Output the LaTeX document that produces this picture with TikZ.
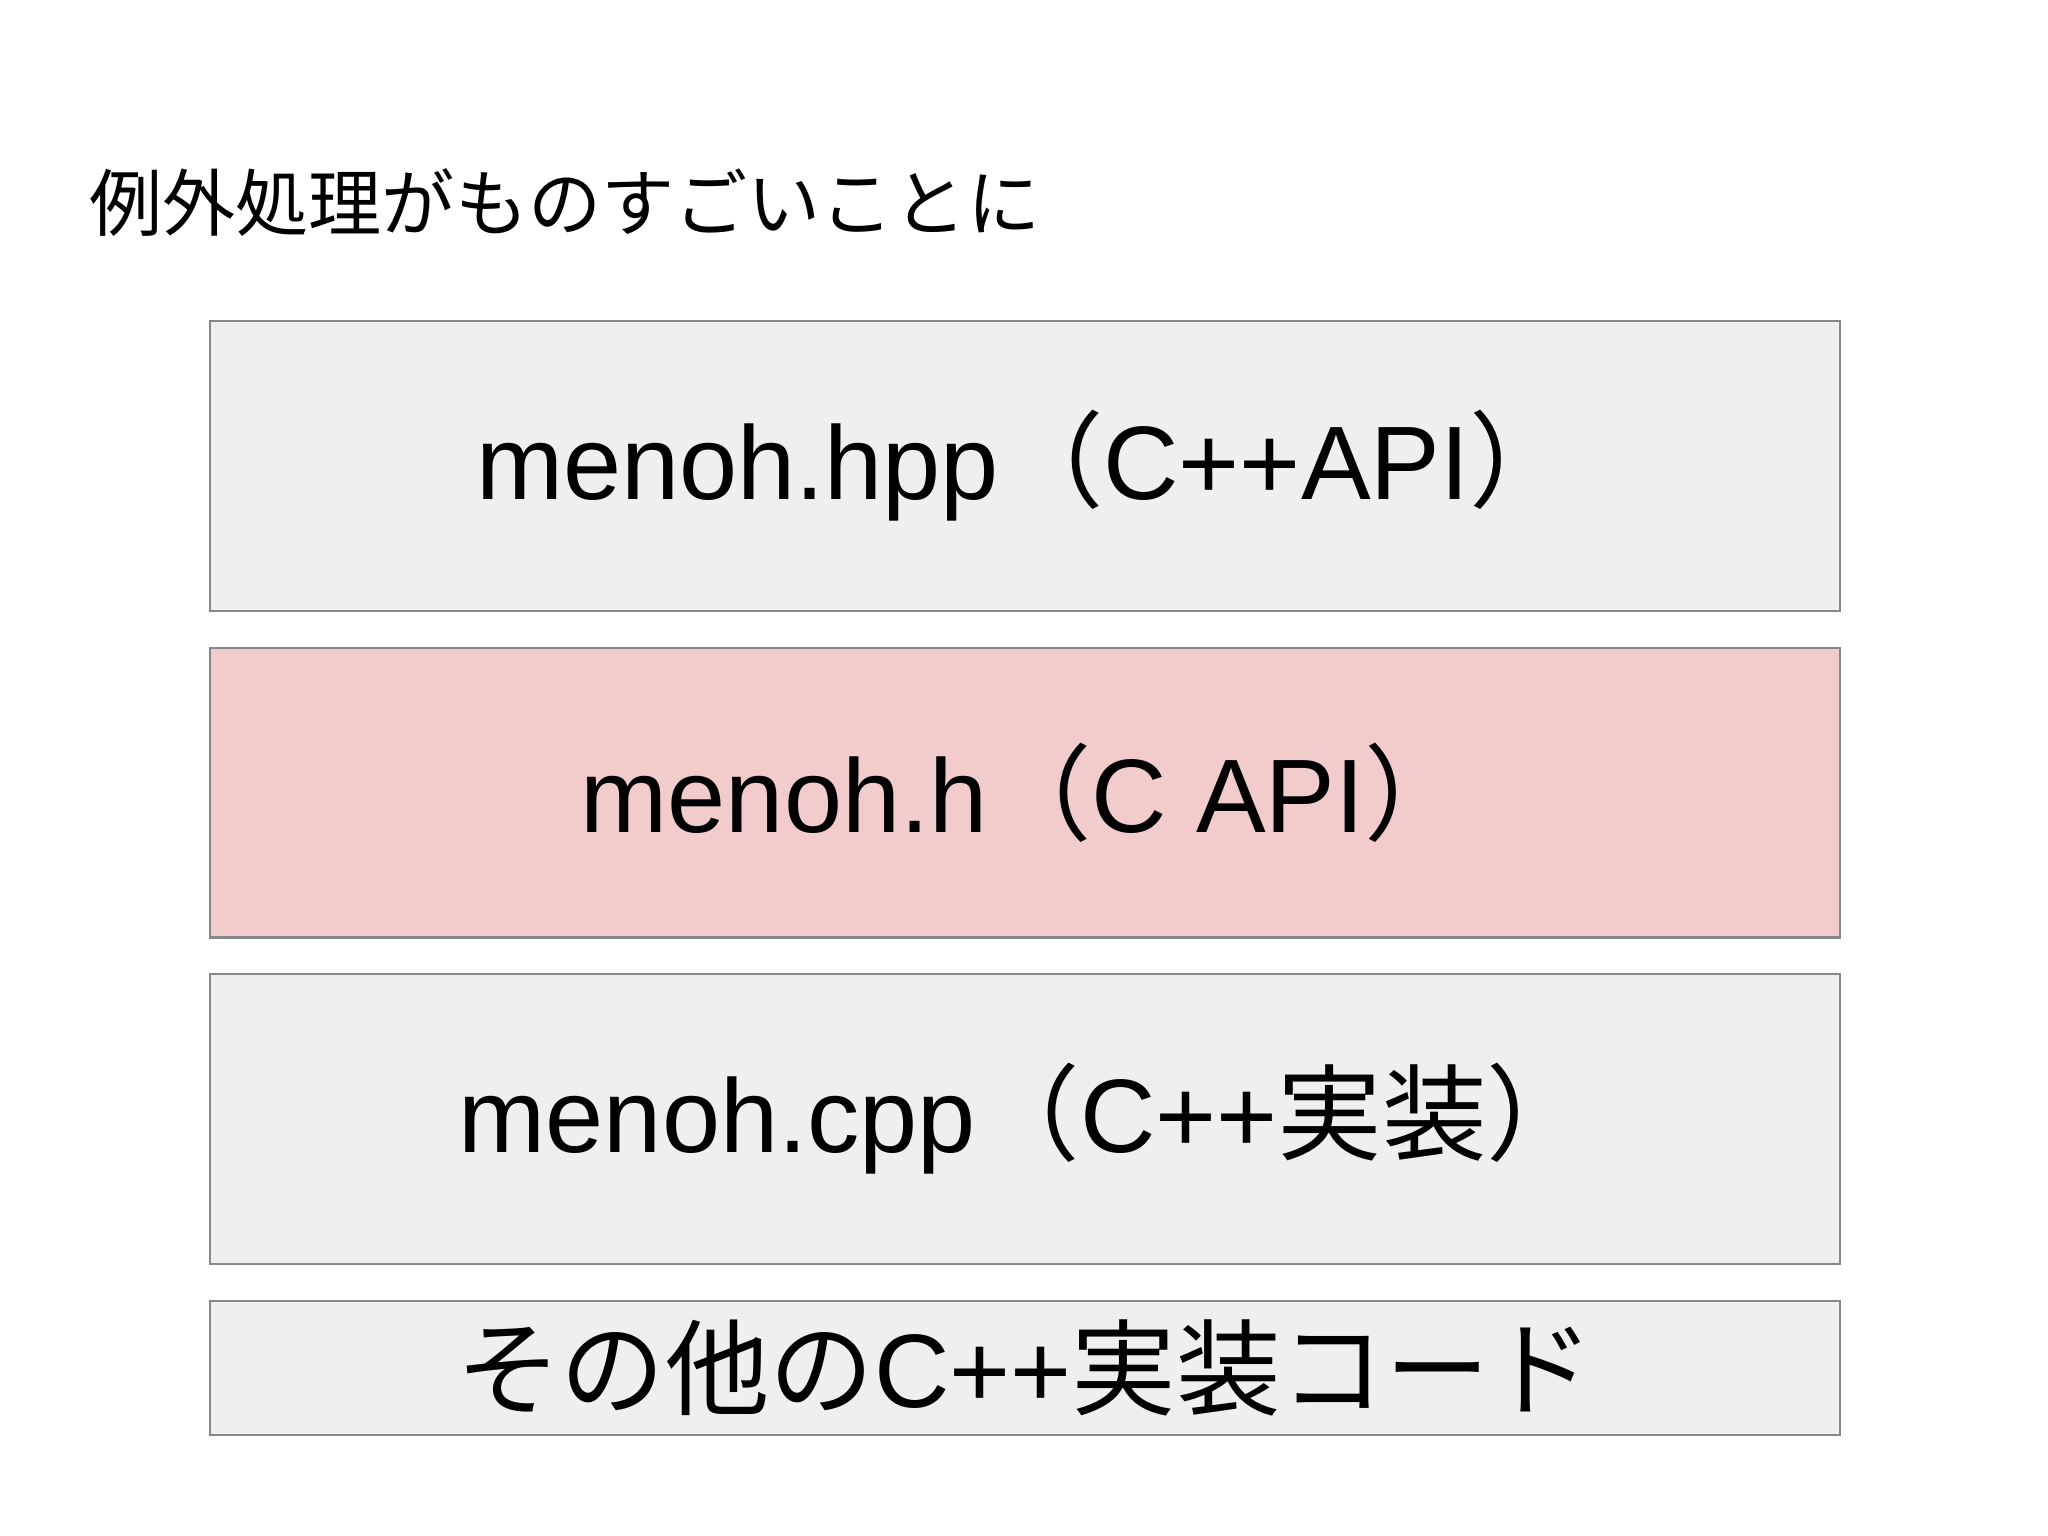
\documentclass[tikz,border=0pt]{standalone}
\usepackage{fontspec}
\setmainfont{Liberation Sans}
\newfontfamily\jp{Noto Sans CJK JP}
\definecolor{boxgray}{HTML}{EFEFEF}
\definecolor{boxpink}{HTML}{F2CCCC}
\definecolor{edge}{HTML}{888888}
\begin{document}
\begin{tikzpicture}[x=0.5pt,y=-0.5pt,
  layer/.style={draw=edge,line width=0.8pt,minimum width=624pt,inner sep=0pt,anchor=north west,font=\fontsize{40}{44}\selectfont}]
\useasboundingbox[fill=white] (0,0) rectangle (1568,1176);
\node[anchor=west,inner sep=0pt,font=\jp\fontsize{28}{32}\selectfont] (title) at (68,155) {例外処理がものすごいことに};
\node[layer,fill=boxgray,minimum height=111pt] (hpp) at (160,245) {menoh.hpp{\jp （}C++API{\jp ）}};
\node[layer,fill=boxpink,minimum height=111pt] (h) at (160,495) {menoh.h{\jp （}C API{\jp ）}};
\node[layer,fill=boxgray,minimum height=111pt] (cpp) at (160,745) {menoh.cpp{\jp （}C++{\jp 実装）}};
\node[layer,fill=boxgray,minimum height=51.5pt] (other) at (160,995) {{\jp その他の}C++{\jp 実装コード}};
\end{tikzpicture}
\end{document}
